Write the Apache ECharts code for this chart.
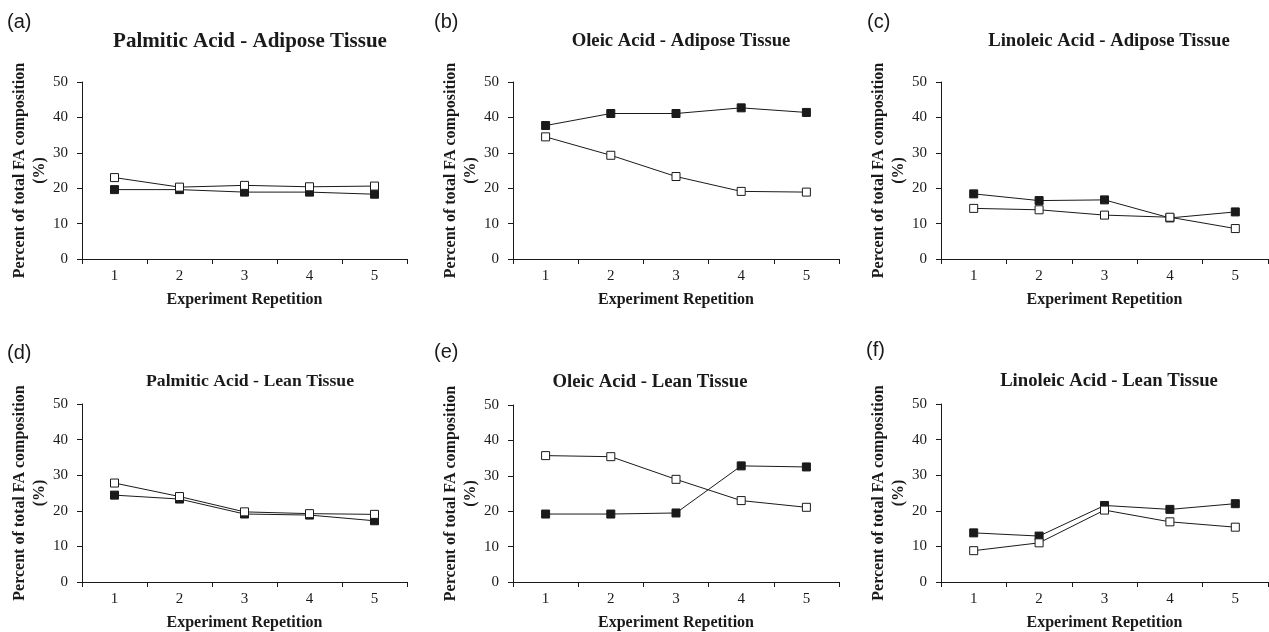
<!DOCTYPE html>
<html>
<head>
<meta charset="utf-8">
<script src="https://cdn.jsdelivr.net/npm/echarts@6/dist/echarts.min.js"></script>
<style>
  html, body { margin: 0; padding: 0; background: #fff; }
  #chart { width: 1269px; height: 632px; }
</style>
</head>
<body>
<div id="chart"></div>
<script>
// x categories shared by all six panels
const repetitions = ["1", "2", "3", "4", "5"];
const yTicks = [0, 10, 20, 30, 40, 50];

const panelTags = ["(a)", "(b)", "(c)", "(d)", "(e)", "(f)"];
const panelTitles = [
  "Palmitic Acid - Adipose Tissue",
  "Oleic Acid - Adipose Tissue",
  "Linoleic Acid - Adipose Tissue",
  "Palmitic Acid - Lean Tissue",
  "Oleic Acid - Lean Tissue",
  "Linoleic Acid - Lean Tissue"
];

// open squares
const openA = [23.0, 20.3, 20.8, 20.4, 20.6];
const openB = [34.5, 29.3, 23.3, 19.1, 18.9];
const openC = [14.3, 13.9, 12.4, 11.8, 8.6];
const openD = [27.8, 24.0, 19.7, 19.2, 19.0];
const openE = [35.7, 35.4, 29.0, 23.0, 21.1];
const openF = [8.8, 11.0, 20.2, 16.9, 15.4];

// filled squares
const filledA = [19.6, 19.6, 18.9, 18.9, 18.3];
const filledB = [37.7, 41.1, 41.1, 42.7, 41.4];
const filledC = [18.4, 16.5, 16.7, 11.6, 13.3];
const filledD = [24.4, 23.3, 19.1, 18.8, 17.2];
const filledE = [19.2, 19.2, 19.5, 32.8, 32.5];
const filledF = [13.8, 12.9, 21.5, 20.4, 22.0];

const openSets = [openA, openB, openC, openD, openE, openF];
const filledSets = [filledA, filledB, filledC, filledD, filledE, filledF];

// layout of each panel (pixels)
const boxes = [
  { left: 82, top: 82, width: 325, height: 177 },
  { left: 513, top: 82, width: 326, height: 177 },
  { left: 941, top: 82, width: 327, height: 177 },
  { left: 82, top: 404, width: 325, height: 178 },
  { left: 513, top: 405, width: 326, height: 177 },
  { left: 941, top: 404, width: 327, height: 178 }
];
const titleCenters = [245, 676, 1104, 245, 645, 1104];
const titleTops = [26, 27, 27, 367, 368, 367];
const titleSizes = [21, 18.7, 18.7, 17.7, 18.7, 18.7];
const tagPos = [[2, 7], [429, 7], [862, 7], [2, 338], [429, 337], [861, 335]];

const serif = "'Liberation Serif', 'Times New Roman', serif";
const ink = "#1a1a1a";

const chart = echarts.init(document.getElementById("chart"));

const title = [];
const grid = [];
const xAxis = [];
const yAxis = [];
const series = [];

boxes.forEach((b, i) => {
  title.push({
    text: panelTitles[i],
    left: titleCenters[i],
    top: titleTops[i],
    textAlign: "center",
    textStyle: {
      fontFamily: serif,
      fontWeight: "bold",
      fontSize: titleSizes[i],
      color: ink
    }
  });
  title.push({
    text: panelTags[i],
    left: tagPos[i][0],
    top: tagPos[i][1],
    textStyle: {
      fontFamily: "'Liberation Sans', Arial, sans-serif",
      fontWeight: "normal",
      fontSize: 20,
      color: ink
    }
  });
  grid.push(Object.assign({ outerBoundsMode: "none", containLabel: false }, b));
  xAxis.push({
    type: "category",
    gridIndex: i,
    data: repetitions,
    boundaryGap: true,
    name: "Experiment Repetition",
    nameLocation: "middle",
    nameGap: 33,
    nameMoveOverlap: false,
    nameTextStyle: { fontFamily: serif, fontWeight: "bold", fontSize: 16, color: ink },
    axisLine: { lineStyle: { color: ink, width: 1 } },
    axisTick: { show: true, length: 5, alignWithLabel: false, lineStyle: { color: ink } },
    axisLabel: { fontFamily: serif, fontSize: 15, color: ink, margin: 10 },
    splitLine: { show: false }
  });
  yAxis.push({
    type: "value",
    gridIndex: i,
    min: yTicks[0],
    max: yTicks[yTicks.length - 1],
    interval: 10,
    name: "Percent of total FA composition\n(%)",
    nameLocation: "middle",
    nameRotate: 90,
    nameGap: 32,
    nameMoveOverlap: false,
    nameTextStyle: {
      fontFamily: serif,
      fontWeight: "bold",
      fontSize: 16,
      lineHeight: 20,
      color: ink
    },
    axisLine: { show: true, lineStyle: { color: ink, width: 1 } },
    axisTick: { show: true, length: 5, lineStyle: { color: ink } },
    axisLabel: { fontFamily: serif, fontSize: 15, color: ink, margin: 14 },
    splitLine: { show: false }
  });
  series.push({
    type: "line",
    xAxisIndex: i,
    yAxisIndex: i,
    data: filledSets[i],
    symbol: "rect",
    symbolSize: 8,
    lineStyle: { color: ink, width: 1 },
    itemStyle: { color: ink, borderColor: ink, borderWidth: 1 },
    animation: false
  });
  series.push({
    type: "line",
    xAxisIndex: i,
    yAxisIndex: i,
    data: openSets[i],
    symbol: "rect",
    symbolSize: 8,
    lineStyle: { color: ink, width: 1 },
    itemStyle: { color: "#fff", borderColor: ink, borderWidth: 1 },
    animation: false
  });
});

chart.setOption({
  backgroundColor: "#fff",
  animation: false,
  title: title,
  grid: grid,
  xAxis: xAxis,
  yAxis: yAxis,
  series: series
});
</script>
</body>
</html>
